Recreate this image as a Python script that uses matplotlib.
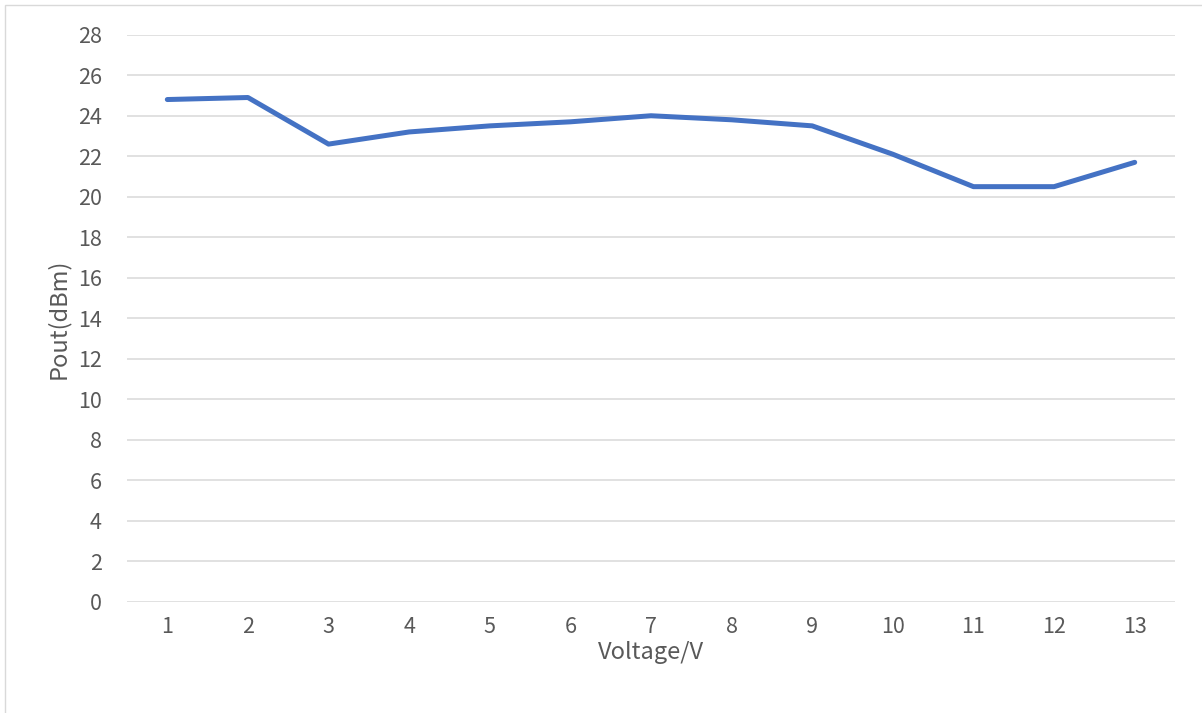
import matplotlib
matplotlib.use("Agg")
import matplotlib.pyplot as plt
from matplotlib.patches import Rectangle

categories = ["1", "2", "3", "4", "5", "6", "7", "8", "9", "10", "11", "12", "13"]
pout = [24.8, 24.9, 22.6, 23.2, 23.5, 23.7, 24.0, 23.8, 23.5, 22.1, 20.5, 20.5, 21.7]
y_ticks = list(range(0, 29, 2))

plt.rcParams['font.family'] = ['Noto Sans CJK SC', 'DejaVu Sans']

W, H = 1202, 713
fig = plt.figure(figsize=(W / 100, H / 100), dpi=100)
fig.patch.set_facecolor('white')

# chart frame
fig.patches.append(Rectangle((5 / W, -0.01), 1.02, 1 - 5 / H + 0.01, transform=fig.transFigure,
                             fill=False, edgecolor='#D9D9D9', linewidth=1.0))

left, right, top, bottom = 127, 1175, 34.7, 602
ax = fig.add_axes([left / W, (H - bottom) / H, (right - left) / W, (bottom - top) / H])

x = list(range(len(categories)))
ax.plot(x, pout, color='#4472C4', linewidth=3.6, solid_capstyle='round', solid_joinstyle='round', zorder=3)

ax.set_xlim(-0.5, len(categories) - 0.5)
ax.set_ylim(0, 28)
ax.set_yticks(y_ticks)
ax.set_xticks(x)
ax.set_xticklabels(categories)
ax.grid(axis='y', color='#D9D9D9', linewidth=1.1)
ax.set_axisbelow(True)
for s in ax.spines.values():
    s.set_visible(False)
ax.tick_params(axis='both', length=0, labelsize=15.5, colors='#595959')
ax.tick_params(axis='y', pad=18)
ax.tick_params(axis='x', pad=10)

ax.set_ylabel('Pout(dBm)', fontsize=17, color='#595959', labelpad=6)
ax.set_xlabel('Voltage/V', fontsize=17, color='#595959', labelpad=2)

fig.savefig('out.png', dpi=100, facecolor='white')
